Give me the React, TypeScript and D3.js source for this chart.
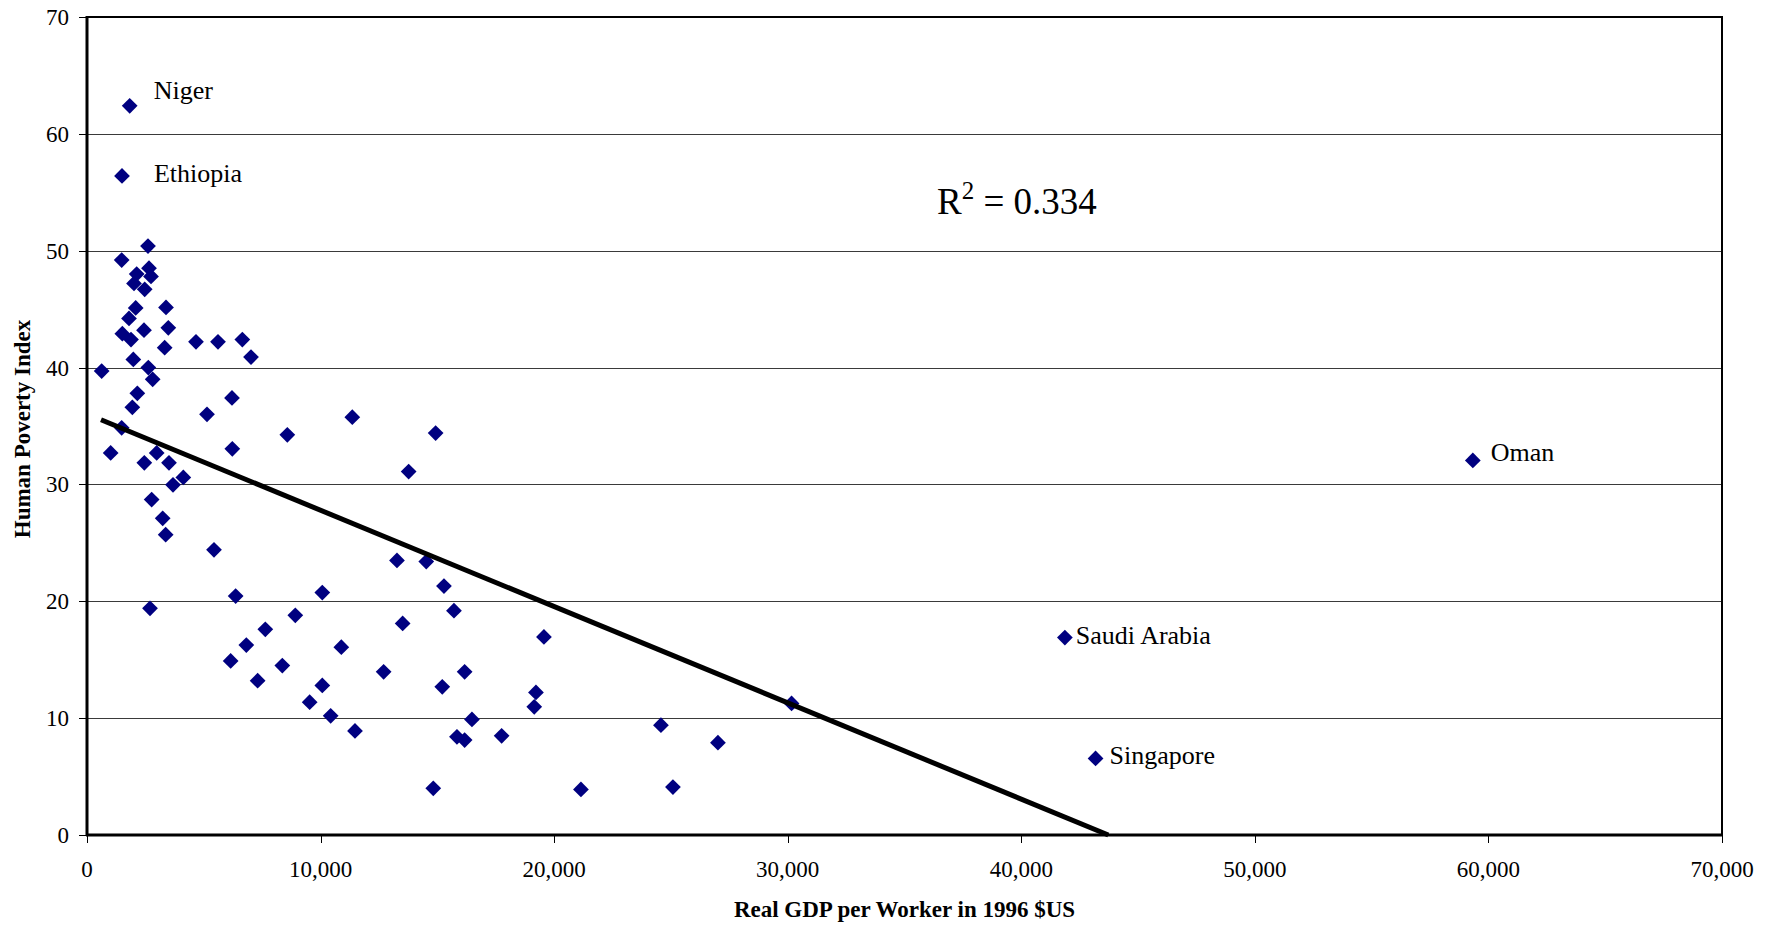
import React from "react";
import * as d3 from "d3";

// Unlabeled countries: real GDP per worker (1996 $US) and Human Poverty Index
const gdpPerWorker = [
  2611, 1485, 2654, 2740, 2127, 2012, 2470, 3382, 2085, 1798,
  2440, 3481, 1513, 1884, 4666, 5608, 6650, 3325, 7021, 1983,
  2625, 628, 2811, 2155, 6207, 1941, 5137, 11358, 1484, 8576,
  14926, 6221, 1013, 2983, 2454, 3510, 13771, 4124, 3682, 2768,
  3240, 3368, 5437, 13271, 14525, 15283, 10074, 6364, 2697, 15711,
  8918, 13514, 7634, 19563, 6821, 10888, 6150, 8362, 12700, 16168,
  7306, 10074, 15210, 19221, 9533, 19148, 30165, 10432, 16481, 24572,
  11473, 15839, 16168, 17752, 27012, 14825, 21147, 25086,
];
const povertyIndex = [
  50.4, 49.2, 48.5, 47.8, 48.0, 47.2, 46.7, 45.15, 45.1, 44.2,
  43.2, 43.4, 42.9, 42.4, 42.2, 42.2, 42.4, 41.7, 40.9, 40.7,
  40.0, 39.7, 39.0, 37.8, 37.4, 36.6, 36.0, 35.75, 34.85, 34.25,
  34.4, 33.05, 32.7, 32.7, 31.85, 31.85, 31.1, 30.6, 29.97, 28.7,
  27.1, 25.7, 24.4, 23.5, 23.4, 21.3, 20.75, 20.45, 19.4, 19.2,
  18.8, 18.1, 17.6, 16.95, 16.25, 16.07, 14.9, 14.5, 13.96, 13.96,
  13.2, 12.8, 12.68, 12.2, 11.37, 10.97, 11.26, 10.2, 9.89, 9.4,
  8.9, 8.4, 8.12, 8.49, 7.9, 3.99, 3.9, 4.1,
];

// Labeled countries
const labelNames = ["Niger", "Ethiopia", "Oman", "Saudi Arabia", "Singapore"];
const labelGdp = [1828, 1498, 59332, 41866, 43180];
const labelHpi = [62.4, 56.4, 32.05, 16.9, 6.55];

// Axis ticks
const xTicks = [0, 10000, 20000, 30000, 40000, 50000, 60000, 70000];
const yTicks = [0, 10, 20, 30, 40, 50, 60, 70];

// Linear trend (as displayed)
const trendIntercept = 36.03;
const trendSlope = -0.000824;
const trendStartX = 600;
const rSquared = "0.334";

// label offsets (style)
const labelOffsets: Record<string, [number, number]> = {
  Niger: [24, -7],
  Ethiopia: [32, 6],
  Oman: [18, 1],
  "Saudi Arabia": [11, 6],
  Singapore: [14, 6],
};

const W = 1775;
const H = 927;
const left = 87;
const right = 1722;
const top = 17;
const bottom = 835;
const FONT = "'Liberation Serif', 'Times New Roman', serif";

export default function App() {
  const x = d3.scaleLinear().domain([0, 70000]).range([left, right]);
  const y = d3.scaleLinear().domain([0, 70]).range([bottom, top]);
  const fmt = d3.format(",");
  const diamond = d3.symbol(d3.symbolSquare, 124)()!;

  const trendEndX = -trendIntercept / trendSlope;
  const trendLine = d3.line<[number, number]>()
    .x((d) => x(d[0]))
    .y((d) => y(d[1]))([
      [trendStartX, trendIntercept + trendSlope * trendStartX],
      [trendEndX, 0],
    ]);

  const allPoints = gdpPerWorker
    .map((g, i) => [g, povertyIndex[i]] as [number, number])
    .concat(labelGdp.map((g, i) => [g, labelHpi[i]] as [number, number]));

  return (
    <svg
      width={W}
      height={H}
      style={{ position: "absolute", left: 0, top: 0, background: "#fff" }}
      fontFamily={FONT}
    >
      <rect x={0} y={0} width={W} height={H} fill="#fff" />
      {/* gridlines */}
      {yTicks.filter((t) => t > 0 && t < 70).map((t) => (
        <line key={"g" + t} x1={left} x2={right} y1={Math.round(y(t)) + 0.5} y2={Math.round(y(t)) + 0.5} stroke="#3a3a3a" strokeWidth={1} />
      ))}
      {/* frame */}
      <rect x={left} y={top} width={right - left} height={bottom - top} fill="none" stroke="#000" strokeWidth={2} />
      <line x1={left} x2={left} y1={top - 1} y2={bottom + 1} stroke="#000" strokeWidth={3} />
      <line x1={left - 1} x2={right + 1} y1={bottom} y2={bottom} stroke="#000" strokeWidth={3} />
      {/* y ticks */}
      {yTicks.map((t) => (
        <g key={"y" + t}>
          <line x1={left - 8} x2={left} y1={Math.round(y(t)) + 0.5} y2={Math.round(y(t)) + 0.5} stroke="#000" strokeWidth={1} />
          <text x={69} y={y(t) + 8} textAnchor="end" fontSize={23} fill="#000">{t}</text>
        </g>
      ))}
      {/* x ticks */}
      {xTicks.map((t) => (
        <g key={"x" + t}>
          <line x1={Math.round(x(t)) + 0.5} x2={Math.round(x(t)) + 0.5} y1={bottom} y2={bottom + 8} stroke="#000" strokeWidth={1} />
          <text x={x(t)} y={877} textAnchor="middle" fontSize={23} fill="#000">{fmt(t)}</text>
        </g>
      ))}
      {/* points */}
      {allPoints.map((p, i) => (
        <path key={"p" + i} d={diamond} transform={`translate(${x(p[0])},${y(p[1])}) rotate(45)`} fill="#000080" />
      ))}
      {/* trend line */}
      <path d={trendLine!} stroke="#000" strokeWidth={5} fill="none" />
      {/* labels */}
      {labelNames.map((n, i) => (
        <text key={"l" + n} x={x(labelGdp[i]) + labelOffsets[n][0]} y={y(labelHpi[i]) + labelOffsets[n][1]} fontSize={26} fill="#000">{n}</text>
      ))}
      {/* R squared */}
      <text x={937} y={214} fontSize={37} fill="#000">
        R<tspan fontSize={25} dy={-15}>2</tspan><tspan dy={15}> = {rSquared}</tspan>
      </text>
      {/* axis titles */}
      <text x={(left + right) / 2} y={917} textAnchor="middle" fontSize={23} fontWeight="bold" fill="#000">
        Real GDP per Worker in 1996 $US
      </text>
      <text transform={`translate(30,${(top + bottom) / 2 + 3}) rotate(-90)`} textAnchor="middle" fontSize={23} fontWeight="bold" fill="#000">
        Human Poverty Index
      </text>
    </svg>
  );
}
